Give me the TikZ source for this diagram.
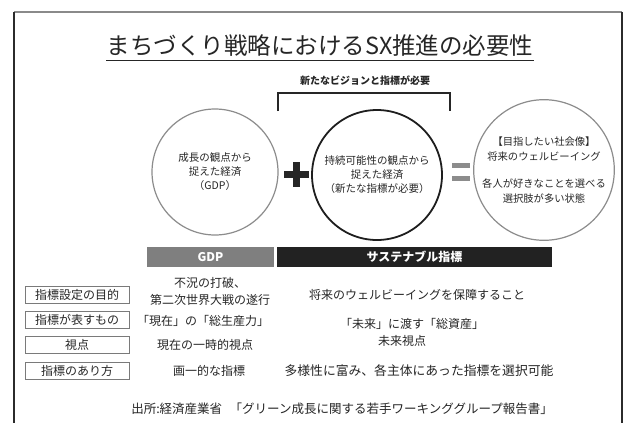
\documentclass[tikz,border=0pt]{standalone}
\usepackage{fontspec}
\setmainfont{Noto Sans CJK JP}
\definecolor{framedark}{HTML}{2B2B2B}
\definecolor{framegray}{HTML}{8A8A8A}
\definecolor{circgray}{HTML}{8C8C8C}
\definecolor{circdark}{HTML}{1E1E1E}
\definecolor{bargray}{HTML}{7F7F7F}
\definecolor{bardark}{HTML}{222222}
\definecolor{txt}{HTML}{262626}
\definecolor{boxgray}{HTML}{7A7A7A}
\tikzset{
  ring/.style={circle, inner sep=0pt, align=center, text=txt,
    font=\fontsize{10.5}{14}\selectfont},
  hbar/.style={minimum height=20pt, inner sep=0pt, text=white,
    font=\bfseries\fontsize{12}{14}\selectfont},
  lbl/.style={draw=boxgray, line width=0.7pt, minimum width=104pt,
    minimum height=17pt, inner sep=0pt, text=txt,
    font=\fontsize{12}{13}\selectfont},
  cell/.style={align=center, inner sep=0pt, text=txt,
    font=\fontsize{12}{16}\selectfont},
}
\begin{document}
\begin{tikzpicture}[x=1pt,y=-1pt]
\useasboundingbox (0,0) rectangle (624,423);
\fill[white] (0,0) rectangle (624,423);
% frame
\draw[framegray, line width=1.2pt] (14,12) -- (622,12);
\draw[framedark, line width=1.4pt] (14,12) -- (14,423);
\draw[framedark, line width=1.4pt] (622,12) -- (622,423);
% title
\node[inner sep=0pt, text=txt, font=\fontsize{23.5}{26}\selectfont] (title) at (320,46) {まちづくり戦略におけるSX推進の必要性};
\draw[txt, line width=1pt] ([yshift=-3pt]title.south west) -- ([yshift=-3pt]title.south east);
% bracket
\node[inner sep=0pt, text=txt, font=\bfseries\fontsize{10}{12}\selectfont] (need) at (365,81) {新たなビジョンと指標が必要};
\coordinate (bl) at (278,111);
\coordinate (br) at (450,111);
\draw[txt, line width=1.4pt] (bl) |- (364,93) -| (br);
% circles
\node[ring, draw=circgray, line width=1.2pt, minimum size=126pt] (c1) at (215,172) {成長の観点から\\捉えた経済\\（GDP）};
\node[ring, draw=circdark, line width=1.8pt, minimum size=130pt] (c2) at (377,175) {持続可能性の観点から\\捉えた経済\\（新たな指標が必要）};
\node[ring, draw=circgray, line width=1.2pt, minimum size=124pt, font=\fontsize{10.3}{15.5}\selectfont] (c3) at (544,170) {【目指したい社会像】\\将来のウェルビーイング\\[11pt]各人が好きなことを選べる\\選択肢が多い状態};
% plus and equal
\node[inner sep=0pt, minimum size=25pt] (plus) at (296,174) {};
\fill[txt] ([xshift=-12.5pt,yshift=-3.5pt]plus.center) rectangle ([xshift=12.5pt,yshift=3.5pt]plus.center);
\fill[txt] ([xshift=-3.5pt,yshift=-12.5pt]plus.center) rectangle ([xshift=3.5pt,yshift=12.5pt]plus.center);
\node[inner sep=0pt, minimum size=18pt] (eq) at (461,172) {};
\fill[circgray] ([xshift=-9pt,yshift=4pt]eq.center) rectangle ([xshift=9pt,yshift=9pt]eq.center);
\fill[circgray] ([xshift=-9pt,yshift=-4pt]eq.center) rectangle ([xshift=9pt,yshift=-9pt]eq.center);
% header bars
\node[hbar, fill=bargray, minimum width=127pt] (hgdp) at (210.5,257) {GDP};
\node[hbar, fill=bardark, minimum width=275pt] (hsus) at (414.5,257) {サステナブル指標};
% row labels
\node[lbl] (r1) at (77,295) {指標設定の目的};
\node[lbl] (r2) at (77,320) {指標が表すもの};
\node[lbl] (r3) at (77,345) {視点};
\node[lbl] (r4) at (77,371) {指標のあり方};
% GDP column
\node[cell, font=\fontsize{12}{17}\selectfont] (g1) at (210,291) {不況の打破、\\第二次世界大戦の遂行};
\node[cell] (g2) at (203,321) {「現在」の「総生産力」};
\node[cell] (g3) at (205,345) {現在の一時的視点};
\node[cell] (g4) at (209,371) {画一的な指標};
% sustainable column
\node[cell] (s1) at (417,295) {将来のウェルビーイングを保障すること};
\node[cell] (s2) at (412,324) {「未来」に渡す「総資産」};
\node[cell] (s3) at (402,341) {未来視点};
\node[cell, font=\fontsize{12.8}{16}\selectfont] (s4) at (419,371) {多様性に富み、各主体にあった指標を選択可能};
% source
\node[cell, font=\fontsize{12.5}{14}\selectfont] (src) at (342,409) {出所:経済産業省\hspace{0.6em}「グリーン成長に関する若手ワーキンググループ報告書」};
\end{tikzpicture}
\end{document}
